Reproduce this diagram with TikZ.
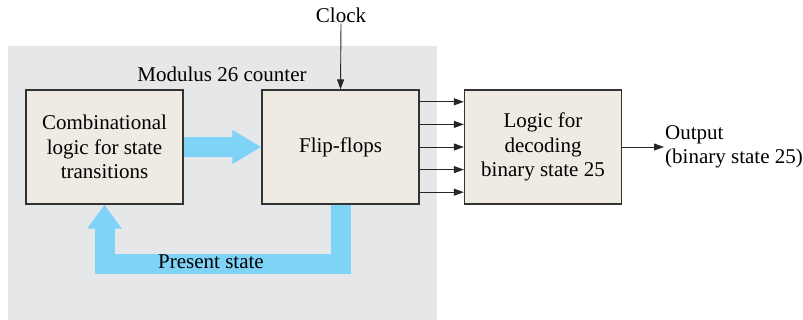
\documentclass[tikz,border=0pt]{standalone}
\usepackage{fontspec}
\newfontfamily\tnr{Liberation Serif}
\usetikzlibrary{arrows.meta}
\definecolor{bggray}{HTML}{E6E7E9}
\definecolor{boxfill}{HTML}{EFEBE2}
\definecolor{boxline}{HTML}{333333}
\definecolor{flowblue}{HTML}{7ED3F7}
\tikzset{
  blockbox/.style={draw=boxline, fill=boxfill, line width=1.3pt, minimum width=157pt, minimum height=114pt, align=center, inner sep=2pt},
  sig/.style={draw=black!85, line width=0.9pt, -{Triangle[length=10pt,width=7pt]}},
  flow/.style={draw=flowblue, line width=20pt, line join=miter, line cap=butt},
  lbl/.style={inner sep=1pt, align=center},
}
\begin{document}
\begin{tikzpicture}[x=1pt,y=-1pt, font=\tnr\fontsize{21}{24.5}\selectfont]
\useasboundingbox (0,0) rectangle (803,320);
\fill[bggray] (8,46) rectangle (437,320);
\node[blockbox] (comb) at (104.5,147) {Combinational\\logic for state\\transitions};
\node[blockbox] (ff) at (340.5,147) {Flip-flops};
\node[blockbox] (dec) at (543,147) {Logic for\\decoding\\binary state 25};
\node[lbl] (mod) at (222,74) {Modulus 26 counter};
\node[lbl] (clk) at (341,15) {Clock};
\node[lbl, anchor=west, align=left] (out) at (664,147) {Output\\(binary state 25)};
% blue flows
\draw[flow, -{Triangle[length=29pt,width=32pt]}, flowblue] (comb.east) -- (ff.west);
\draw[flow, -{Triangle[length=24pt,width=33pt]}, flowblue] (ff.south) -- ++(0,59) coordinate (fbcorner) -| (comb.south);
\node[lbl] (pres) at (211,262) {Present state};
% signals
\draw[sig] (clk.south) -- (ff.north);
\foreach \d in {-45.2,-22.6,0,22.6,45.2}
  \draw[sig] ([yshift=\d pt]ff.east) -- ([yshift=\d pt]dec.west);
\draw[sig] (dec.east) -- (out.west);
\end{tikzpicture}
\end{document}
